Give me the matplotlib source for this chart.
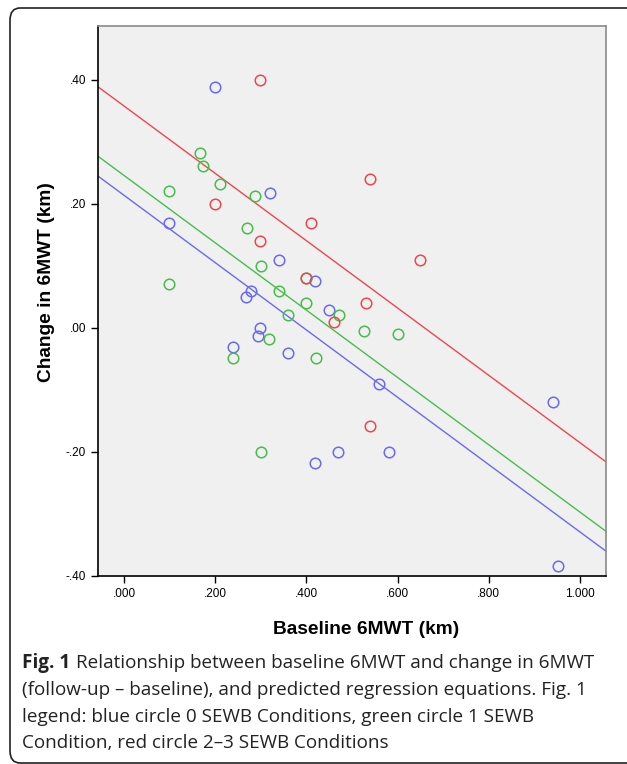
import matplotlib
matplotlib.use("Agg")
import matplotlib.pyplot as plt
import matplotlib.patches as mp
import numpy as np

# data (baseline km, change km)
blue_x = [0.200, 0.099, 0.320, 0.340, 0.419, 0.279, 0.268, 0.450, 0.298, 0.294,
          0.239, 0.360, 0.559, 0.941, 0.469, 0.581, 0.419, 0.952]
blue_y = [0.389, 0.169, 0.218, 0.110, 0.076, 0.060, 0.050, 0.029, 0.000, -0.013,
          -0.031, -0.040, -0.090, -0.119, -0.200, -0.200, -0.218, -0.384]

green_x = [0.167, 0.173, 0.210, 0.099, 0.287, 0.270, 0.300, 0.099, 0.340, 0.399,
           0.360, 0.471, 0.526, 0.601, 0.318, 0.239, 0.421, 0.300, 0.400]
green_y = [0.282, 0.261, 0.232, 0.221, 0.213, 0.161, 0.100, 0.071, 0.060, 0.040,
           0.021, 0.021, -0.005, -0.010, -0.018, -0.048, -0.048, -0.200, 0.080]

red_x = [0.298, 0.539, 0.200, 0.410, 0.298, 0.649, 0.399, 0.531, 0.461, 0.539]
red_y = [0.400, 0.240, 0.200, 0.169, 0.140, 0.110, 0.081, 0.040, 0.010, -0.158]

# fitted lines (common slope, one intercept per group)
slope = -0.543
intercepts = {"blue": 0.214, "green": 0.246, "red": 0.358}

xticks = [0.0, 0.2, 0.4, 0.6, 0.8, 1.0]
xtick_labels = [".000", ".200", ".400", ".600", ".800", "1.000"]
yticks = [-0.4, -0.2, 0.0, 0.2, 0.4]
ytick_labels = ["-.40", "-.20", ".00", ".20", ".40"]

colors = {"blue": "#6a6aee", "green": "#48bd4c", "red": "#ee4650"}

W, H = 627, 764
fig = plt.figure(figsize=(W / 100, H / 100), dpi=100)

# outer rounded frame (partly clipped by the image edge)
frame = mp.FancyBboxPatch((10 / W, 1 - 763 / H), (650 - 10) / W, (763 - 8) / H,
                          boxstyle="round,pad=0,rounding_size=0.016",
                          transform=fig.transFigure, fill=False,
                          edgecolor="#222222", lw=1.2)
fig.patches.append(frame)

left, right, top, bottom = 98, 606, 26, 576
ax = fig.add_axes([left / W, 1 - bottom / H, (right - left) / W, (bottom - top) / H])
ax.set_facecolor("#f0f0f0")

xlim = (-0.057, 1.057)
ax.set_xlim(*xlim)
ax.set_ylim(-0.40, 0.487)

xs = np.array(xlim)
for name in ["blue", "green", "red"]:
    ax.plot(xs, intercepts[name] + slope * xs, color=colors[name], lw=1.0, zorder=2)

for name, px, py in [("blue", blue_x, blue_y), ("green", green_x, green_y), ("red", red_x, red_y)]:
    ax.plot(px, py, 'o', ms=7.6, mfc='none', mec=colors[name], mew=1.1, zorder=3)

ax.set_xticks(xticks)
ax.set_xticklabels(xtick_labels)
ax.set_yticks(yticks)
ax.set_yticklabels(ytick_labels)
ax.tick_params(direction='out', length=5, width=1, labelsize=8.5, colors='black')
for lab in ax.get_xticklabels() + ax.get_yticklabels():
    lab.set_family("Liberation Sans")

ax.spines['left'].set_color('black')
ax.spines['bottom'].set_color('black')
ax.spines['top'].set_color('#8a8a8a')
ax.spines['right'].set_color('#8a8a8a')
for s in ax.spines.values():
    s.set_linewidth(1.2)

fig.text(366 / W, 1 - 630 / H, "Baseline 6MWT (km)", ha='center', va='center',
         family="Liberation Sans", weight='bold', fontsize=13.8)
fig.text(47 / W, 1 - 282 / H, "Change in 6MWT (km)", ha='center', va='center',
         rotation=90, family="Liberation Sans", weight='bold', fontsize=13.8)

# caption
cap_x = 22 / W
cap_fs = 13.6
head = fig.text(cap_x, 1 - 663 / H, "Fig. 1", ha='left', va='center',
                family="Open Sans", weight='bold', fontsize=cap_fs, color='#222222')
renderer = fig.canvas.get_renderer()
bb = head.get_window_extent(renderer)
fig.text(bb.x1 / W + 6 / W, 1 - 663 / H,
         "Relationship between baseline 6MWT and change in 6MWT",
         ha='left', va='center', family="Open Sans", fontsize=cap_fs, color='#222222')
lines = ["(follow-up \u2013 baseline), and predicted regression equations. Fig. 1",
         "legend: blue circle 0 SEWB Conditions, green circle 1 SEWB",
         "Condition, red circle 2\u20133 SEWB Conditions"]
for i, t in enumerate(lines):
    fig.text(cap_x, 1 - (690 + 26.5 * i) / H, t, ha='left', va='center',
             family="Open Sans", fontsize=cap_fs, color='#222222')

fig.savefig("out.png", dpi=100)
